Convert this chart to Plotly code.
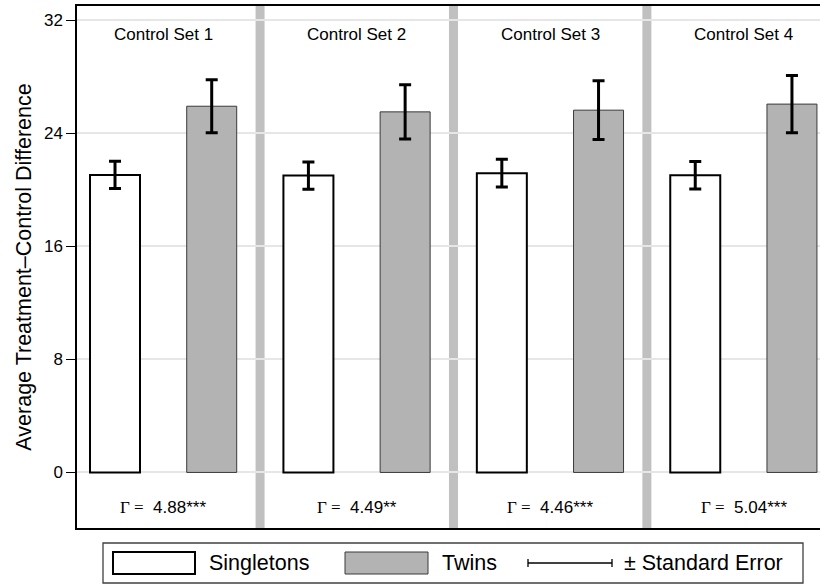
import plotly.graph_objects as go

# Values per control set
control_sets = ["Control Set 1", "Control Set 2", "Control Set 3", "Control Set 4"]
singletons = [21.05, 21.0, 21.17, 21.03]
singletons_se = [0.97, 0.97, 0.98, 0.97]
twins = [25.91, 25.51, 25.63, 26.06]
twins_se = [1.87, 1.92, 2.08, 2.02]
gamma_values = ["4.88***", "4.49**", "4.46***", "5.04***"]
y_ticks = [0, 8, 16, 24, 32]

SANS = "Liberation Sans, Arial, Helvetica, sans-serif"
SERIF = "Liberation Serif, Times New Roman, serif"

W, H = 820, 584
ML, MR, MT, MB = 77, 0, 6, 56

x_single = [2 * i + 1 for i in range(len(control_sets))]
x_twin = [2 * i + 2 for i in range(len(control_sets))]
x_centers = [2 * i + 1.5 for i in range(len(control_sets))]
separators = [2 * i + 2.5 for i in range(len(control_sets) - 1)]

fig = go.Figure()

fig.add_trace(go.Bar(
    x=x_single, y=singletons, width=0.517, name="Singletons",
    marker=dict(color="white", line=dict(color="black", width=2)),
    error_y=dict(type="data", array=singletons_se, color="black", thickness=3, width=6),
    showlegend=False,
))
fig.add_trace(go.Bar(
    x=x_twin, y=twins, width=0.517, name="Twins",
    marker=dict(color="#b3b3b3", line=dict(color="#3a3a3a", width=1)),
    error_y=dict(type="data", array=twins_se, color="black", thickness=3, width=6),
    showlegend=False,
))

# Grey dividers between control sets
shapes = []
for s in separators:
    shapes.append(dict(type="line", xref="x", yref="paper", x0=s, x1=s, y0=0, y1=1,
                       line=dict(color="#c0c0c0", width=9), layer="between"))

annotations = []
for xc, name, g in zip(x_centers, control_sets, gamma_values):
    annotations.append(dict(x=xc, y=31.0, xref="x", yref="y", text=name, showarrow=False,
                            font=dict(family=SANS, size=17, color="black")))
    annotations.append(dict(
        x=xc, y=-2.5, xref="x", yref="y", showarrow=False,
        text=f"<span style='font-family:{SERIF}'>Γ =</span>  {g}",
        font=dict(family=SANS, size=17, color="black")))

# Legend box drawn beneath the plot area
pw = W - ML - MR
ph = H - MT - MB


def px(xp):
    return (xp - ML) / pw


def py(yp):
    return (H - MB - yp) / ph


shapes.append(dict(type="rect", xref="paper", yref="paper",
                   x0=px(103), x1=px(803), y0=py(583), y1=py(543),
                   line=dict(color="#404040", width=1.3), fillcolor="white"))
shapes.append(dict(type="rect", xref="paper", yref="paper",
                   x0=px(113), x1=px(195), y0=py(574), y1=py(552),
                   line=dict(color="black", width=2), fillcolor="white"))
shapes.append(dict(type="rect", xref="paper", yref="paper",
                   x0=px(345), x1=px(428), y0=py(574), y1=py(552),
                   line=dict(color="#3a3a3a", width=1), fillcolor="#b3b3b3"))
shapes.append(dict(type="line", xref="paper", yref="paper",
                   x0=px(528), x1=px(612), y0=py(563), y1=py(563),
                   line=dict(color="black", width=1.3)))
for xe in (528, 612):
    shapes.append(dict(type="line", xref="paper", yref="paper",
                       x0=px(xe), x1=px(xe), y0=py(559), y1=py(567),
                       line=dict(color="black", width=1.3)))

for xt, label in [(207, "Singletons"), (440, "Twins"), (622, "± Standard Error")]:
    annotations.append(dict(x=px(xt), y=py(563), xref="paper", yref="paper",
                            xanchor="left", yanchor="middle", showarrow=False, text=label,
                            font=dict(family=SANS, size=21.5, color="black")))

fig.update_layout(
    width=W, height=H,
    margin=dict(l=ML, r=MR, t=MT, b=MB),
    paper_bgcolor="white", plot_bgcolor="white",
    barmode="overlay",
    shapes=shapes, annotations=annotations,
    font=dict(family=SANS, color="black"),
)
fig.update_xaxes(range=[0.607, 8.29], showgrid=False, zeroline=False, showticklabels=False,
                 ticks="", showline=True, linecolor="black", linewidth=1.5, mirror=True)
fig.update_yaxes(range=[-3.93, 33.0], tickvals=y_ticks, ticktext=[str(v) for v in y_ticks],
                 showgrid=True, gridcolor="#e6e6e6", gridwidth=1.5, zeroline=False,
                 ticks="outside", ticklen=9, tickwidth=1, tickcolor="black",
                 tickfont=dict(family=SANS, size=17, color="black"),
                 showline=True, linecolor="black", linewidth=1.5, mirror=False,
                 title=dict(text="Average Treatment–Control Difference",
                            font=dict(family=SANS, size=21.5, color="black"), standoff=6))

fig.write_html("out.html")
